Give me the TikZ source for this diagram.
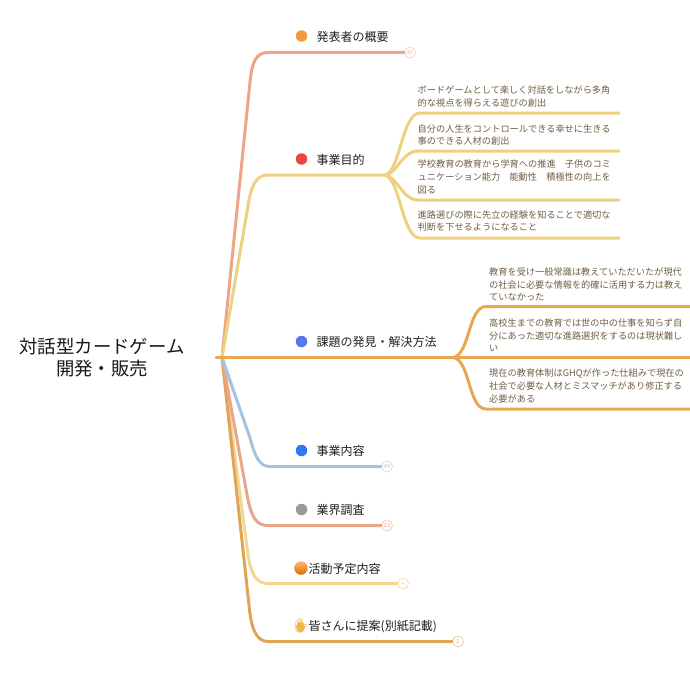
\documentclass[tikz,border=0pt]{standalone}
\usepackage{fontspec}
\setmainfont{Noto Sans CJK JP}
\newfontfamily\emojifont{Noto Emoji}
\usetikzlibrary{shapes.geometric}
\definecolor{salmonline}{HTML}{EBA587}
\definecolor{yellowline}{HTML}{EFD07F}
\definecolor{orangeline}{HTML}{E9A850}
\definecolor{blueline}{HTML}{A5C3DF}
\definecolor{paleline}{HTML}{F1D891}
\definecolor{darkline}{HTML}{E0A458}
\definecolor{leaftext}{HTML}{6F5D42}
\definecolor{handcolor}{HTML}{F2B84B}
\definecolor{dotorange}{HTML}{F29B3F}
\definecolor{dotred}{HTML}{EE4444}
\definecolor{dotperiwinkle}{HTML}{5578EE}
\definecolor{dotblue}{HTML}{2F78EE}
\begin{document}
\begin{tikzpicture}[x=1pt,y=-1pt,
  branch/.style={line width=3pt,line cap=round},
  title/.style={font=\fontsize{18.4}{21.4}\selectfont,align=center,text=black!90},
  topic/.style={font=\fontsize{12}{14}\selectfont,anchor=west,inner sep=0pt,text=black!88},
  leaf/.style={font=\fontsize{9.2}{12.6}\selectfont,anchor=west,align=left,inner sep=0pt,text=leaftext},
  dot/.style={circle,minimum size=11.5pt,inner sep=0pt},
  badge/.style={circle,draw,fill=white,minimum size=11pt,inner sep=0pt,line width=0.6pt,font=\fontsize{5.5}{6}\selectfont}]
  \useasboundingbox (0,0) rectangle (690,693);

  \node[title] (root) at (102,357.5) {対話型カードゲーム\\開発・販売};
  \coordinate (hub) at (222,357.5);
  \coordinate (rootend) at (216,357.5);

  \node[badge,draw=salmonline!55,text=salmonline!80] (badgeA) at (410,52.5) {30};
  \node[badge,draw=blueline!70,text=blueline] (badgeD) at (387,466.5) {44};
  \node[badge,draw=salmonline!70,text=salmonline] (badgeE) at (387,525.5) {23};
  \node[badge,draw=paleline,text=paleline] (badgeF) at (403,583.5) {4};
  \node[badge,draw=darkline!70,text=darkline] (badgeG) at (458,641.5) {1};

  \coordinate (hubB) at (385,175);
  \coordinate (hubC) at (453,357.5);
  \coordinate (endB1) at (619,113);
  \coordinate (endB2) at (619,151);
  \coordinate (endB3) at (619,200);
  \coordinate (endB4) at (619,238);
  \coordinate (endC1) at (690,306.5);
  \coordinate (endC2) at (690,357.5);
  \coordinate (endC3) at (690,409);

  \draw[branch,salmonline] (hub) -- (250,82) .. controls (252,62) and (256,52.5) .. (268,52.5) -- (badgeA);
  \draw[branch,yellowline] (hub) -- (248,206) .. controls (251,186) and (256,175) .. (268,175) -- (hubB);
  \draw[branch,yellowline] (hubB) .. controls (400,172) and (402,113) .. (420,113) -- (endB1);
  \draw[branch,yellowline] (hubB) .. controls (397,174) and (402,151) .. (418,151) -- (endB2);
  \draw[branch,yellowline] (hubB) .. controls (397,176) and (402,200) .. (418,200) -- (endB3);
  \draw[branch,yellowline] (hubB) .. controls (400,178) and (402,238) .. (420,238) -- (endB4);

  \draw[branch,paleline] (hub) -- (248,555) .. controls (251,574) and (256,583.5) .. (268,583.5) -- (badgeF);
  \draw[branch,darkline] (hub) -- (249,605) .. controls (251,628) and (256,641.5) .. (268,641.5) -- (badgeG);
  \draw[branch,salmonline] (hub) -- (248,500) .. controls (252,517) and (256,525.5) .. (268,525.5) -- (badgeE);
  \draw[branch,blueline] (hub) -- (250,438) .. controls (255,456) and (259,466.5) .. (270,466.5) -- (badgeD);
  \draw[branch,orangeline] (rootend) -- (hubC);
  \draw[branch,orangeline] (hubC) -- (endC2);
  \draw[branch,orangeline] (hubC) .. controls (470,355) and (468,306.5) .. (486,306.5) -- (endC1);
  \draw[branch,orangeline] (hubC) .. controls (470,359) and (468,409) .. (486,409) -- (endC3);

  \node[dot,fill=dotorange] (dotA) at (301.5,36) {};
  \node[dot,fill=dotred] (dotB) at (301.5,159) {};
  \node[dot,fill=dotperiwinkle] (dotC) at (301.5,341.5) {};
  \node[dot,fill=dotblue] (dotD) at (301.5,450.5) {};
  \node[dot,fill=black!40] (dotE) at (301.5,509.5) {};
  \node[circle,minimum size=13.5pt,inner sep=0pt,top color=orange!55!white,middle color=orange!90!yellow,bottom color=orange!85!black] (dotF) at (301,568) {};
  \node[ellipse,fill=handcolor,minimum width=9pt,minimum height=11pt,inner sep=0pt] (handfill) at (300.5,627) {};
  \node[inner sep=0pt,text=handcolor,font=\emojifont\fontsize{14}{14}\selectfont] (dotG) at (301,626) {✋};

  \node[topic] (topicA) at (316.5,36.5) {発表者の概要};
  \node[topic] (topicB) at (316.5,160) {事業目的};
  \node[topic] (topicC) at (316.5,342) {課題の発見・解決方法};
  \node[topic] (topicD) at (316.5,451) {事業内容};
  \node[topic] (topicE) at (316.5,510) {業界調査};
  \node[topic] (topicF) at (308.5,568.5) {活動予定内容};
  \node[topic] (topicG) at (308.5,626.5) {皆さんに提案(別紙記載)};

  \node[leaf] (leafB1) at (417.5,96.5) {ボードゲームとして楽しく対話をしながら多角\\的な視点を得らえる遊びの創出};
  \node[leaf] (leafB2) at (417.5,135) {自分の人生をコントロールできる幸せに生きる\\事のできる人材の創出};
  \node[leaf] (leafB3) at (417.5,177) {学校教育の教育から学育への推進　子供のコミ\\ュニケーション能力　能動性　積極性の向上を\\図る};
  \node[leaf] (leafB4) at (417.5,221) {進路選びの際に先立の経験を知ることで適切な\\判断を下せるようになること};
  \node[leaf] (leafC1) at (489,284.5) {教育を受け一般常識は教えていただいたが現代\\の社会に必要な情報を的確に活用する力は教え\\ていなかった};
  \node[leaf] (leafC2) at (489,335.5) {高校生までの教育では世の中の仕事を知らず自\\分にあった適切な進路選択をするのは現状難し\\い};
  \node[leaf] (leafC3) at (489,386) {現在の教育体制はGHQが作った仕組みで現在の\\社会で必要な人材とミスマッチがあり修正する\\必要がある};
\end{tikzpicture}
\end{document}
